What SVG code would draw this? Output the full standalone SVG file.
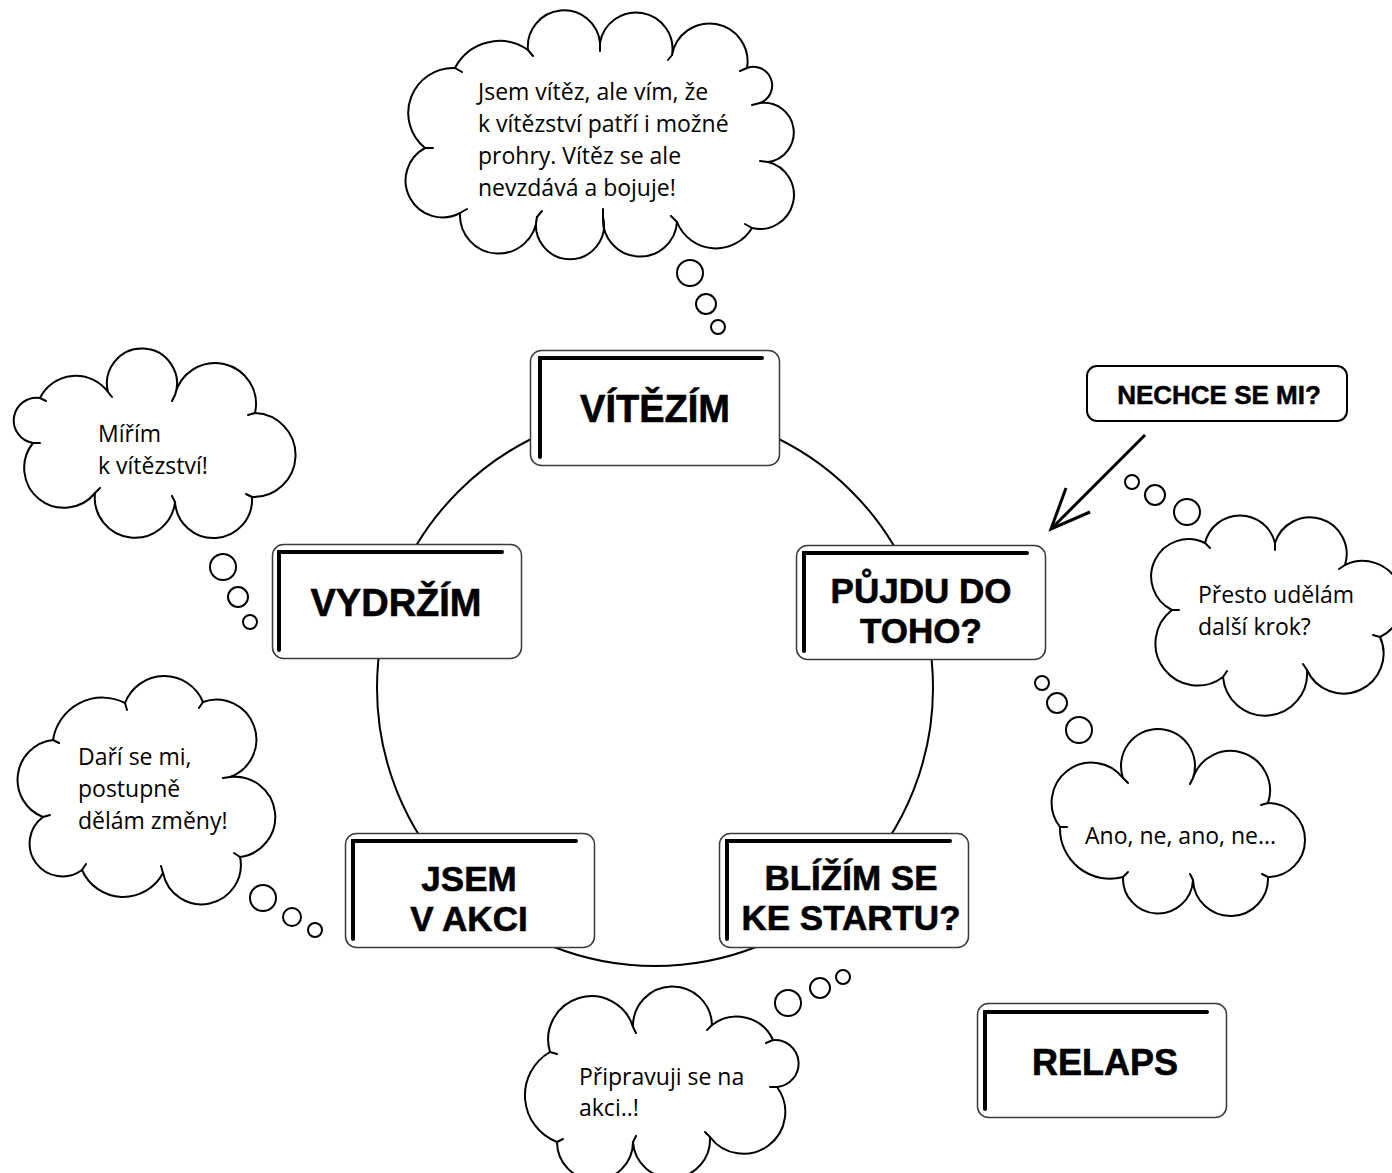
<svg xmlns="http://www.w3.org/2000/svg" width="1392" height="1173" viewBox="0 0 1392 1173">
<style>
.bg{fill:#fff}
.box{fill:#fff;stroke:#3a3a3a;stroke-width:1.5}
.ell{fill:none;stroke:#000;stroke-width:4;stroke-linecap:round;stroke-linejoin:miter}
.ht{font-family:"Liberation Sans",Arial,sans-serif;font-weight:700;font-size:35px;fill:#000;stroke:#000;stroke-width:0.6;text-anchor:middle}
.ct{font-family:"Open Sans","Liberation Sans",sans-serif;font-size:23px;fill:#000}
.cloud{fill:#fff;stroke:#000;stroke-width:2;stroke-linejoin:round}
.hook{fill:none;stroke:#000;stroke-width:2;stroke-linecap:round}
.bub{fill:#fff;stroke:#000;stroke-width:2}
.con{fill:none;stroke:#000;stroke-width:2}
</style>
<rect class="bg" x="0" y="0" width="1392" height="1173"/>

<g id="connectors">
  <circle class="con" cx="655" cy="688" r="278"/>
  <g id="arrow">
    <line x1="1145" y1="435" x2="1052" y2="528" stroke="#000" stroke-width="3"/>
    <polyline points="1066,488 1051,529 1090,512" fill="none" stroke="#000" stroke-width="3" stroke-linejoin="miter"/>
  </g>
</g>

<g id="node-vitezim">
  <rect class="box" x="530.5" y="350.5" width="249" height="115" rx="11"/>
  <path class="ell" d="M540 457 V358 H762"/>
  <text class="ht" x="655" y="422" style="font-size:38px">VÍTĚZÍM</text>
</g>

<g id="node-vydrzim">
  <rect class="box" x="272.5" y="544.5" width="249" height="114" rx="11"/>
  <path class="ell" d="M279 650 V552 H502"/>
  <text class="ht" x="396" y="616" style="font-size:38px">VYDRŽÍM</text>
</g>

<g id="node-pujdu">
  <rect class="box" x="796.5" y="545.5" width="249" height="114" rx="11"/>
  <path class="ell" d="M804 651 V553 H1027"/>
  <text class="ht" x="921" y="603">PŮJDU DO<tspan x="921" dy="40">TOHO?</tspan></text>
</g>

<g id="node-jsem">
  <rect class="box" x="345.5" y="833.5" width="249" height="114" rx="11"/>
  <path class="ell" d="M353 939 V841 H576"/>
  <text class="ht" x="469" y="891">JSEM<tspan x="469" dy="40">V AKCI</tspan></text>
</g>

<g id="node-blizim">
  <rect class="box" x="719.5" y="833.5" width="249" height="114" rx="11"/>
  <path class="ell" d="M727 939 V841 H950"/>
  <text class="ht" x="851" y="890">BLÍŽÍM SE<tspan x="851" dy="40">KE STARTU?</tspan></text>
</g>

<g id="node-relaps">
  <rect class="box" x="977.5" y="1003.5" width="249" height="114" rx="11"/>
  <path class="ell" d="M985 1109 V1012 H1207"/>
  <text class="ht" x="1105" y="1075" style="font-size:36px">RELAPS</text>
</g>

<g id="node-nechce">
  <rect x="1087" y="366" width="260" height="55" rx="10" fill="#fff" stroke="#000" stroke-width="2"/>
  <text class="ht" x="1219" y="404" style="font-size:26px;stroke-width:0.5">NECHCE SE MI?</text>
</g>

<g id="cloud-top">
  <path class="cloud" d="M425 148 A45 45 0 0 1 455 68 A50 50 0 0 1 528 50 A1 1 0 0 1 600 43 A1 1 0 0 1 672 55 A1 1 0 0 1 747 68 A1 1 0 0 1 760 103 A1 1 0 0 1 768 162 A1 1 0 0 1 752 228 A42 42 0 0 1 677 222 A34 34 0 1 1 603 217 A34 34 0 1 1 537 217 A1 1 0 0 1 460 213 A1 1 0 0 1 425 148 Z"/>
  <path class="hook" d="M425 148 L433 148 M455 68 L462 72 M528 50 L533 56 M600 43 L600 51 M672 55 L668 60 M747 68 L740 71 M760 103 L752 105 M768 162 L760 161 M752 228 L745 224 M677 222 L671 216 M603 217 L603 209 M537 217 L542 211 M460 213 L467 209"/>
  <circle class="bub" cx="690" cy="273" r="13"/>
  <circle class="bub" cx="706" cy="304" r="10"/>
  <circle class="bub" cx="718" cy="327" r="7"/>
  <text class="ct" x="478" y="100">Jsem vítěz, ale vím, že<tspan x="478" dy="32">k vítězství patří i možné</tspan><tspan x="478" dy="32">prohry. Vítěz se ale</tspan><tspan x="478" dy="32">nevzdává a bojuje!</tspan></text>
</g>

<g id="cloud-mirim">
  <path class="cloud" d="M33 443 A1 1 0 0 1 40 398 A40 40 0 0 1 108 392 A35 35 0 1 1 175 395 A1 1 0 0 1 255 413 A1 1 0 0 1 252 497 A1 1 0 0 1 175 502 A1 1 0 0 1 95 493 A1 1 0 0 1 33 443 Z"/>
  <path class="hook" d="M33 443 L40 443 M40 398 L46 401 M108 392 L112 397 M175 395 L172 401 M255 413 L248 415 M252 497 L246 494 M175 502 L172 496 M95 493 L100 488"/>
  <circle class="bub" cx="223" cy="567" r="13"/>
  <circle class="bub" cx="238" cy="597" r="10"/>
  <circle class="bub" cx="250" cy="622" r="7"/>
  <text class="ct" x="98" y="442">Mířím<tspan x="98" dy="32">k vítězství!</tspan></text>
</g>

<g id="cloud-dari">
  <path class="cloud" d="M53 740 A50 50 0 0 1 125 703 A42 42 0 0 1 203 702 A1 1 0 0 1 230 777 A1 1 0 0 1 240 857 A1 1 0 0 1 163 873 A45 45 0 0 1 82 870 A1 1 0 0 1 43 817 A40 40 0 0 1 53 740 Z"/>
  <path class="hook" d="M53 740 L59 743 M125 703 L127 710 M203 702 L199 708 M230 777 L223 778 M240 857 L234 853 M163 873 L161 866 M82 870 L86 864 M43 817 L50 815"/>
  <circle class="bub" cx="263" cy="898" r="13"/>
  <circle class="bub" cx="292" cy="917" r="9"/>
  <circle class="bub" cx="315" cy="930" r="7"/>
  <text class="ct" x="78" y="765">Daří se mi,<tspan x="78" dy="32">postupně</tspan><tspan x="78" dy="32">dělám změny!</tspan></text>
</g>

<g id="cloud-pripravuji">
  <path class="cloud" d="M550 1052 A1 1 0 0 1 633 1027 A1 1 0 0 1 712 1025 A40 40 0 0 1 773 1040 A1 1 0 0 1 777 1087 A1 1 0 0 1 710 1137 A1 1 0 0 1 633 1142 A1 1 0 0 1 557 1142 A50 50 0 0 1 550 1052 Z"/>
  <path class="hook" d="M550 1052 L557 1054 M633 1027 L636 1033 M712 1025 L707 1030 M773 1040 L766 1043 M777 1087 L770 1087 M710 1137 L705 1132 M633 1142 L636 1136 M557 1142 L563 1139"/>
  <circle class="bub" cx="788" cy="1003" r="13"/>
  <circle class="bub" cx="820" cy="988" r="10"/>
  <circle class="bub" cx="843" cy="977" r="7"/>
  <text class="ct" x="579" y="1085">Připravuji se na<tspan x="579" dy="31">akci..!</tspan></text>
</g>

<g id="cloud-ano">
  <path class="cloud" d="M1123 778 A37 37 0 1 1 1193 778 A1 1 0 0 1 1268 803 A1 1 0 0 1 1268 877 A1 1 0 0 1 1193 880 A1 1 0 0 1 1123 877 A50 50 0 0 1 1060 827 A1 1 0 0 1 1123 778 Z"/>
  <path class="hook" d="M1123 778 L1128 783 M1193 778 L1190 784 M1268 803 L1261 805 M1268 877 L1262 874 M1193 880 L1190 874 M1123 877 L1128 872 M1060 827 L1067 827"/>
  <circle class="bub" cx="1042" cy="683" r="7"/>
  <circle class="bub" cx="1057" cy="703" r="10"/>
  <circle class="bub" cx="1079" cy="730" r="13"/>
  <text class="ct" x="1085" y="844">Ano, ne, ano, ne...</text>
</g>

<g id="cloud-presto">
  <path class="cloud" d="M1205 543 A36 36 0 0 1 1275 543 A1 1 0 0 1 1345 565 A1 1 0 0 1 1380 637 A1 1 0 0 1 1307 670 A1 1 0 0 1 1223 677 A1 1 0 0 1 1172 610 A1 1 0 0 1 1205 543 Z"/>
  <path class="hook" d="M1205 543 L1210 548 M1275 543 L1275 550 M1345 565 L1339 569 M1380 637 L1373 635 M1307 670 L1303 664 M1223 677 L1227 671 M1172 610 L1179 610"/>
  <circle class="bub" cx="1132" cy="482" r="7"/>
  <circle class="bub" cx="1155" cy="495" r="10"/>
  <circle class="bub" cx="1187" cy="512" r="13"/>
  <text class="ct" x="1198" y="603">Přesto udělám<tspan x="1198" dy="32">další krok?</tspan></text>
</g>
</svg>
